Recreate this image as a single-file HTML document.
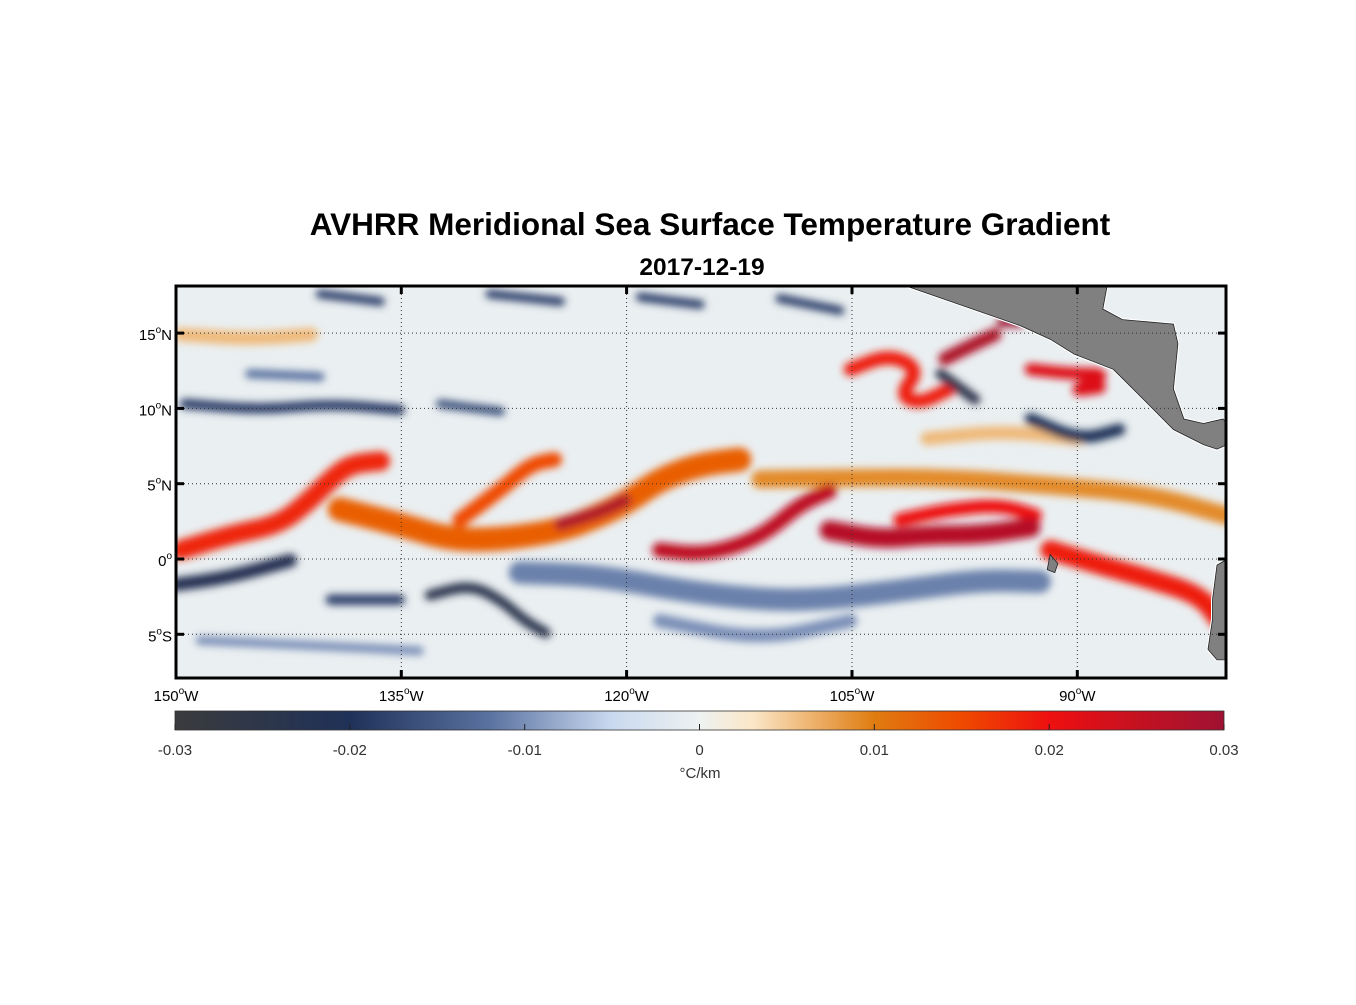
<!DOCTYPE html>
<html><head><meta charset="utf-8">
<style>
html,body{margin:0;padding:0;background:#fff;}
body{width:1356px;height:1000px;overflow:hidden;font-family:"Liberation Sans",sans-serif;}
svg text{font-family:"Liberation Sans",sans-serif;}
</style></head>
<body>
<svg id="chart" width="1356" height="1000" viewBox="0 0 1356 1000" xmlns="http://www.w3.org/2000/svg">
<defs>
<clipPath id="mapclip"><rect x="176" y="286" width="1050" height="392"/></clipPath>
<filter id="blur" filterUnits="userSpaceOnUse" x="100" y="200" width="1200" height="560"><feGaussianBlur stdDeviation="4"/></filter>
<linearGradient id="cbgrad" x1="0" x2="1" y1="0" y2="0"></linearGradient>
</defs>
<text x="710" y="235" text-anchor="middle" font-size="31.5" font-weight="bold">AVHRR Meridional Sea Surface Temperature Gradient</text>
<text x="702" y="275" text-anchor="middle" font-size="24.5" font-weight="bold">2017-12-19</text>
<g id="map" clip-path="url(#mapclip)">
<rect x="176" y="286" width="1050" height="392" fill="#eaeff1"/>
<g id="features" filter="url(#blur)"></g>
<g id="land"></g>
</g>
<g id="grid"></g>
<rect x="176" y="286" width="1050" height="392" fill="none" stroke="#000" stroke-width="3"/>
<g id="axes"></g>
<g id="colorbar"></g>
</svg>
<script>
const NS="http://www.w3.org/2000/svg";
const lonTicks=[-150,-135,-120,-105,-90];
const lonLabels=["150","135","120","105","90"];
const latTicks=[15,10,5,0,-5];
const latLabels=["15","10","5","0","5"];
const latHemi=["N","N","N","","S"];
const cbTicks=[-0.03,-0.02,-0.01,0,0.01,0.02,0.03];
const cbLabels=["-0.03","-0.02","-0.01","0","0.01","0.02","0.03"];
const cbValues=[-0.03,-0.02,-0.012,-0.005,0,0.003,0.01,0.015,0.02,0.03];
const cbColors=["#3b3b3d","#1f3158","#5a72a0","#c9d9ef","#eef2f1","#fbe7c8","#df7c10","#ef4a00","#ee1010","#9e1232"];
const featValues=[0.018,0.013,0.028,0.015,0.026,0.027,0.02,0.009,0.019,0.019,0.028,0.03,0.022,
 -0.022,-0.018,-0.024,-0.011,-0.018,-0.016,-0.018,-0.018,-0.018,-0.018,-0.025,-0.02,-0.012,-0.01,-0.01,0.006,0.006];
const featWidths=[1.3,1.6,0.8,1.0,1.0,1.3,0.9,1.2,1.3,0.9,0.9,0.6,0.8,
 0.9,0.7,0.7,1.5,0.7,0.6,0.6,0.6,0.6,0.6,0.7,0.8,0.6,0.6,0.9,0.9,0.9];
const featLons=[
 [-149.7,-146.4,-143.1,-141.1,-139.7,-138.4,-136.4],
 [-139.1,-135.1,-131.8,-128.4,-124.4,-121.8,-119.8,-117.8,-115.1,-112.5],
 [-124.4,-121.8,-120.1],
 [-131.1,-128.4,-126.4,-124.8],
 [-117.8,-115.1,-112.5,-110.5,-108.5,-106.5],
 [-106.5,-103.1,-99.8,-96.5,-93.1],
 [-101.8,-98.5,-95.1,-92.8],
 [-111.1,-105.1,-98.5,-91.8,-85.2,-80.1],
 [-91.8,-88.5,-85.2,-81.8,-80.5],
 [-105.1,-102.5,-100.5,-101.8,-100.5,-98.5],
 [-98.8,-96.8,-95.5],
 [-95.1,-93.8],
 [-93.1,-90.5,-87.8,-90.5,-88.5],
 [-150,-146.4,-142.4],
 [-139.7,-135.1],
 [-133.1,-130.4,-128.4,-126.8,-125.4],
 [-127.1,-121.8,-116.4,-111.1,-107.1,-101.8,-96.5,-92.5],
 [-149.4,-144.4,-139.7,-135.1],
 [-132.4,-128.4],
 [-140.4,-136.4],
 [-129.1,-124.4],
 [-119.1,-115.1],
 [-109.8,-105.8],
 [-99.1,-96.8],
 [-93.1,-89.8,-87.2],
 [-145.1,-140.4],
 [-148.4,-141.7,-133.8],
 [-117.8,-111.1,-105.1],
 [-149.7,-145,-141],
 [-100,-95,-90]
];
const featLats=[
 [0.6,1.6,2.3,3.9,5.3,6.3,6.5],
 [3.3,2.3,1.3,1.3,1.9,2.9,3.9,5.3,6.3,6.6],
 [2.3,3.1,3.9],
 [2.6,4.6,6.3,6.6],
 [0.6,0.3,0.9,1.9,3.6,4.5],
 [1.9,1.3,1.6,1.6,2.1],
 [2.6,3.3,3.6,2.9],
 [5.3,5.4,5.4,4.9,4.3,2.9],
 [0.6,-0.4,-1.3,-2.4,-4.1],
 [12.6,13.6,12.6,10.9,10.3,11.3],
 [13.3,14.3,14.9],
 [15.7,15.7],
 [12.6,12.3,12.3,11.1,11.4],
 [-1.7,-1.2,-0.1],
 [-2.7,-2.7],
 [-2.4,-1.7,-2.7,-4.1,-4.9],
 [-0.9,-1.1,-2.1,-2.7,-2.7,-2.1,-1.4,-1.5],
 [10.3,9.9,10.3,9.9],
 [10.3,9.8],
 [17.6,17.1],
 [17.6,17.1],
 [17.4,16.9],
 [17.3,16.5],
 [12.3,10.6],
 [9.3,7.9,8.6],
 [12.3,12.1],
 [-5.4,-5.7,-6.1],
 [-4.1,-5.4,-4.1],
 [14.9,14.6,14.9],
 [8,8.5,8]
];
const landLonA=[-101.6,-88,-88.3,-87,-83.6,-83.3,-83.6,-82.9,-81.6,-80.3,-80,-80,-80.7,-81.6,-83.6,-85.6,-87.6,-90.2,-91.8,-93.8];
const landLatA=[18.2,18.2,16.6,15.9,15.6,14.3,11.3,9.3,9.0,9.3,9.0,7.6,7.3,7.6,8.6,10.6,12.6,13.6,14.6,15.5];
const landLonB=[-80,-80.7,-81,-81,-81.3,-80.7,-80];
const landLatB=[0,-0.4,-2.7,-4,-6,-6.7,-6.7];

const x0=176,x1=1226,y0=286,y1=678,lonMin=-150,lonMax=-80.1,latMin=-7.9,latMax=18.13;
function xs(lon){return x0+(lon-lonMin)/(lonMax-lonMin)*(x1-x0);}
function ys(lat){return y1-(lat-latMin)/(latMax-latMin)*(y1-y0);}
const pxPerDeg=(x1-x0)/(lonMax-lonMin);
function hex(c){return [parseInt(c.slice(1,3),16),parseInt(c.slice(3,5),16),parseInt(c.slice(5,7),16)];}
function color(v){
 if(v<=cbValues[0])return cbColors[0];
 for(let i=1;i<cbValues.length;i++){if(v<=cbValues[i]){const t=(v-cbValues[i-1])/(cbValues[i]-cbValues[i-1]);const a=hex(cbColors[i-1]),b=hex(cbColors[i]);return "rgb("+a.map((q,k)=>Math.round(q+(b[k]-q)*t)).join(",")+")";}}
 return cbColors[cbColors.length-1];
}
function f(n){return n.toFixed(1);}
function smoothPath(pts){
 let d="M"+f(pts[0][0])+","+f(pts[0][1]);
 for(let i=1;i<pts.length;i++){const p=pts[i-1],q=pts[i];const mx=(p[0]+q[0])/2,my=(p[1]+q[1])/2;d+=" Q"+f(p[0])+","+f(p[1])+" "+f(mx)+","+f(my);}
 const l=pts[pts.length-1];d+=" L"+f(l[0])+","+f(l[1]);return d;
}
const fg=document.getElementById("features");
const order=featValues.map((v,i)=>i).sort((a,b)=>Math.abs(featValues[a])-Math.abs(featValues[b]));
order.forEach(i=>{
 const pts=featLons[i].map((lon,k)=>[xs(lon),ys(featLats[i][k])]);
 const p=document.createElementNS(NS,"path");
 p.setAttribute("d",smoothPath(pts));
 p.setAttribute("fill","none");
 p.setAttribute("stroke",color(featValues[i]));
 p.setAttribute("stroke-width",(featWidths[i]*pxPerDeg).toFixed(1));
 p.setAttribute("stroke-linecap","round");
 p.setAttribute("stroke-linejoin","round");
 
 
 fg.appendChild(p);
});
const lg=document.getElementById("land");
[[landLonA,landLatA,"central-america-land"],[landLonB,landLatB,"south-america-land"]].forEach(([lo,la,nm])=>{
 const p=document.createElementNS(NS,"polygon");
 p.setAttribute("points",lo.map((l,k)=>xs(l).toFixed(1)+","+ys(la[k]).toFixed(1)).join(" "));
 p.setAttribute("fill","#808080");p.setAttribute("stroke","#fff");p.setAttribute("stroke-width","3");
 
 
 lg.appendChild(p);
 const q=p.cloneNode();q.setAttribute("stroke","#222");q.setAttribute("stroke-width","0.8");
 
 
 lg.appendChild(q);
});
const gal=document.createElementNS(NS,"polygon");
gal.setAttribute("points",[[-91.8,0.3],[-91.3,-0.3],[-91.5,-0.9],[-92,-0.7]].map(p=>xs(p[0]).toFixed(1)+","+ys(p[1]).toFixed(1)).join(" "));
gal.setAttribute("fill","#808080");gal.setAttribute("stroke","#222");gal.setAttribute("stroke-width","0.8");


lg.appendChild(gal);

const grid=document.getElementById("grid"),axes=document.getElementById("axes");
function mk(tag,attrs,parent){const e=document.createElementNS(NS,tag);for(const k in attrs)e.setAttribute(k,attrs[k]);parent.appendChild(e);return e;}
lonTicks.forEach((lon,i)=>{
 const x=xs(lon).toFixed(1);
 const gl=mk("line",{x1:x,x2:x,y1:y0,y2:y1,stroke:"#333","stroke-width":"1","stroke-dasharray":"1,3"},grid);
 
 
 const t1=mk("line",{x1:x,x2:x,y1:y0,y2:y0+8,stroke:"#000","stroke-width":"3"},axes);
 
 
 const t2=mk("line",{x1:x,x2:x,y1:y1-8,y2:y1,stroke:"#000","stroke-width":"3"},axes);
 
 
 const tx=mk("text",{x:x,y:y1+23,"text-anchor":"middle","font-size":"15"},axes);
 tx.innerHTML=lonLabels[i]+'<tspan font-size="10" dy="-7">o</tspan><tspan dy="7">W</tspan>';
 
 
});
latTicks.forEach((lat,i)=>{
 const y=ys(lat).toFixed(1);
 const gl=mk("line",{x1:x0,x2:x1,y1:y,y2:y,stroke:"#333","stroke-width":"1","stroke-dasharray":"1,3"},grid);
 
 
 const t1=mk("line",{x1:x0,x2:x0+8,y1:y,y2:y,stroke:"#000","stroke-width":"3"},axes);
 
 
 const t2=mk("line",{x1:x1-8,x2:x1,y1:y,y2:y,stroke:"#000","stroke-width":"3"},axes);
 
 
 const tx=mk("text",{x:x0-4,y:+y+7,"text-anchor":"end","font-size":"15"},axes);
 tx.innerHTML=latLabels[i]+'<tspan font-size="10" dy="-7">o</tspan><tspan dy="7">'+latHemi[i]+'</tspan>';
 
 
});
const grad=document.getElementById("cbgrad");
cbValues.forEach((v,i)=>{mk("stop",{offset:((v+0.03)/0.06*100).toFixed(2)+"%","stop-color":cbColors[i]},grad);});
const cb=document.getElementById("colorbar");
const cbx0=175,cbx1=1224,cby0=711,cby1=730;
function cbx(v){return cbx0+(v+0.03)/0.06*(cbx1-cbx0);}
const cr=mk("rect",{x:cbx0,y:cby0,width:cbx1-cbx0,height:cby1-cby0,fill:"url(#cbgrad)",stroke:"#333","stroke-width":"0.8"},cb);


cbTicks.forEach((v,i)=>{
 const x=cbx(v).toFixed(1);
 const t=mk("line",{x1:x,x2:x,y1:cby1-6,y2:cby1,stroke:"#222","stroke-width":"1"},cb);
 
 
 const tx=mk("text",{x:x,y:cby1+25,"text-anchor":"middle","font-size":"15",fill:"#333"},cb);
 tx.textContent=cbLabels[i];
 
 
});
const unit=mk("text",{x:700,y:778,"text-anchor":"middle","font-size":"15",fill:"#333"},cb);
unit.textContent="°C/km";


</script>
</body></html>
